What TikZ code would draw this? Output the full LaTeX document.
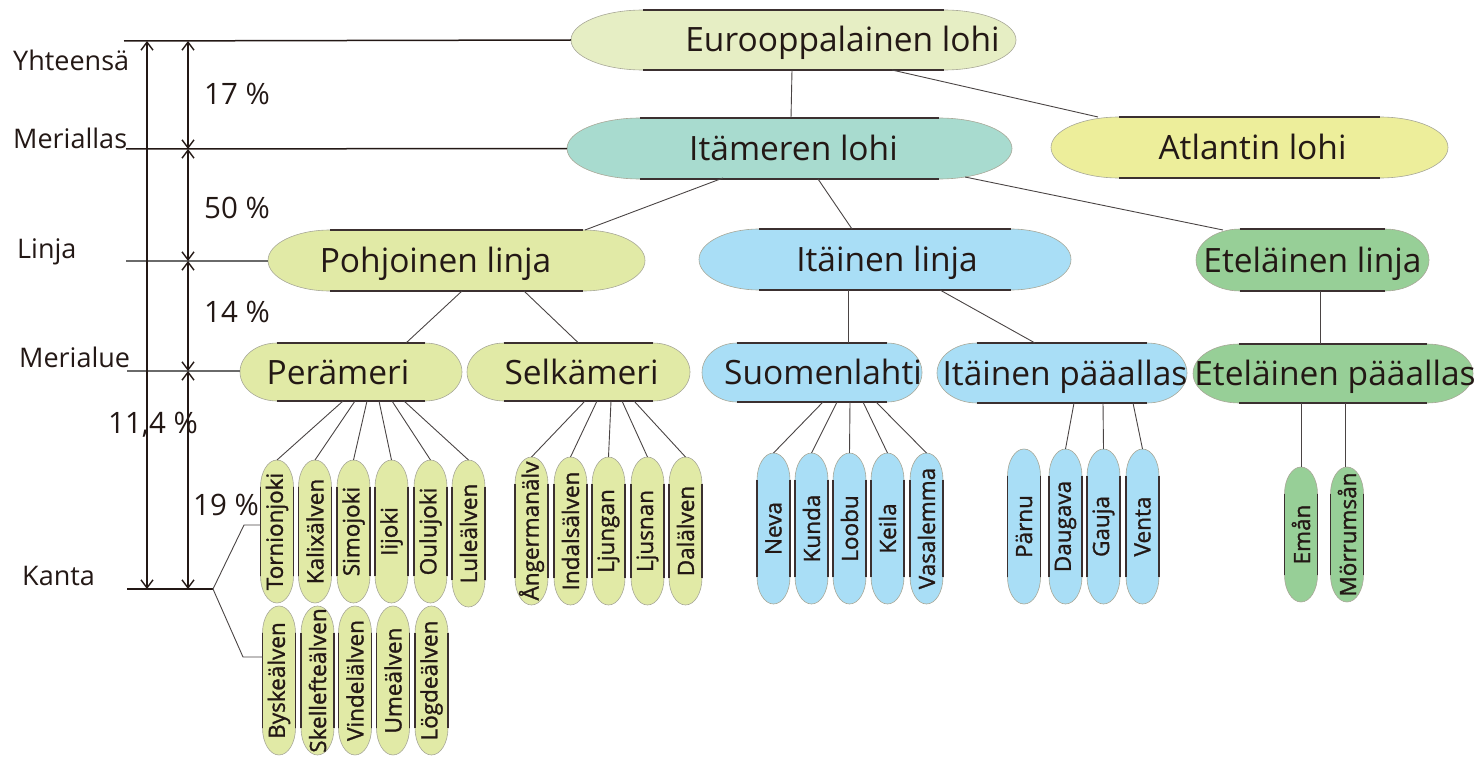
\documentclass[tikz,border=0pt]{standalone}
\usepackage{fontspec}
\usepackage{graphicx}
\setmainfont{Open Sans}
\newfontfamily\riverfont{Open Sans}[FakeBold=1.2]
\usetikzlibrary{arrows.meta,calc}
\definecolor{ink}{HTML}{231815}
\definecolor{capedge}{HTML}{A8A898}
\definecolor{capdark}{HTML}{3B3030}
\definecolor{connC}{HTML}{4A4444}
\definecolor{greyline}{HTML}{6A6A6A}
\definecolor{euroC}{HTML}{E6EEC4}
\definecolor{itamC}{HTML}{A8DBCF}
\definecolor{atlC}{HTML}{EDEE9B}
\definecolor{pohjC}{HTML}{E1EAA6}
\definecolor{blueC}{HTML}{A9DEF6}
\definecolor{greenC}{HTML}{97CF97}
% horizontal capsule: name, x, y, width, height, end length, fill, text, text shift
\newcommand\hcap[9]{%
  \filldraw[fill=#7, draw=capedge, line width=0.6pt]
    (#2-#4/2+#6,#3-#5/2) -- (#2+#4/2-#6,#3-#5/2)
    arc[start angle=90,end angle=-90,x radius=#6*1pt,y radius=#5*0.5pt]
    -- (#2-#4/2+#6,#3+#5/2)
    arc[start angle=270,end angle=90,x radius=#6*1pt,y radius=#5*0.5pt] -- cycle;
  \draw[capline] (#2-#4/2+#6,#3-#5/2) -- (#2+#4/2-#6,#3-#5/2);
  \draw[capline] (#2-#4/2+#6,#3+#5/2) -- (#2+#4/2-#6,#3+#5/2);
  \node[capnode, captext, minimum width=#4*1pt, minimum height=#5*1pt] (#1) at (#2,#3)
    {\makebox[0pt]{\hspace*{#9pt}\hspace*{#9pt}#8}};
}
% vertical capsule: name, x, y, height, fill, text
\newcommand\vcap[6]{%
  \filldraw[fill=#5, draw=capedge, line width=0.6pt]
    (#2-16.5,#3-#4/2+27) arc[start angle=180,end angle=0,x radius=16.5pt,y radius=27pt]
    -- (#2+16.5,#3+#4/2-27)
    arc[start angle=0,end angle=-180,x radius=16.5pt,y radius=27pt] -- cycle;
  \draw[capline] (#2-16.5,#3-#4/2+27) -- (#2-16.5,#3+#4/2-27);
  \draw[capline] (#2+16.5,#3-#4/2+27) -- (#2+16.5,#3+#4/2-27);
  \node[capnode, rivertext, minimum width=33pt, minimum height=#4*1pt] (#1) at (#2,#3)
    {\rotatebox{90}{#6}};
}
\begin{document}
\begin{tikzpicture}[x=1pt,y=-1pt,
  capline/.style={draw=capdark, line width=1.3pt},
  capnode/.style={draw=none, inner sep=0pt, outer sep=0pt, rectangle},
  captext/.style={font=\fontsize{33.5}{38}\selectfont, text=ink, text height=24pt, text depth=0pt},
  rivertext/.style={font=\riverfont\fontsize{22.5}{26}\selectfont, text=ink},
  axlabel/.style={font=\fontsize{27}{32}\selectfont, text=ink, inner sep=0pt, anchor=base west},
  pclabel/.style={font=\fontsize{29.5}{34}\selectfont, text=ink, inner sep=0pt, anchor=base west},
  conn/.style={draw=connC, line width=0.9pt},
  darkline/.style={draw=ink, line width=1.5pt},
  greyaxis/.style={draw=greyline, line width=1.1pt},
  dimarrow/.style={draw=ink, line width=1.4pt,
    {Straight Barb[length=8pt,width=12pt]}-{Straight Barb[length=8pt,width=12pt]}}
]
\useasboundingbox (0,0) rectangle (1480,757);

% ---------- main nodes ----------
\hcap{euro}{793.5}{40}{445}{60}{72}{euroC}{Eurooppalainen lohi}{49}
\hcap{itam}{789.5}{148.5}{445}{61}{73}{itamC}{Itämeren lohi}{4}
\hcap{atl}{1249.5}{147.5}{397}{61}{68}{atlC}{Atlantin lohi}{3}
\hcap{pohj}{456.5}{260.5}{377}{61}{62}{pohjC}{Pohjoinen linja}{-21}
\hcap{itlin}{885}{259.5}{372}{61}{60}{blueC}{Itäinen linja}{2}
\hcap{etlin}{1312.5}{260}{233}{62}{44}{greenC}{Eteläinen linja}{0}
\hcap{per}{351}{372}{222}{58}{37}{pohjC}{Perämeri}{-13}
\hcap{selk}{578.5}{372}{223}{58}{37}{pohjC}{Selkämeri}{3}
\hcap{suom}{812}{372.5}{220}{59}{35}{blueC}{Suomenlahti}{11}
\hcap{itpaa}{1062}{373}{250}{60}{40}{blueC}{Itäinen pääallas}{3}
\hcap{etpaa}{1333}{373.5}{280}{59}{46}{greenC}{Eteläinen pääallas}{2}

% ---------- rivers ----------
\vcap{torn}{277}{531.5}{143}{pohjC}{Tornionjoki}
\vcap{kalix}{315}{531.5}{143}{pohjC}{Kalixälven}
\vcap{simo}{353.5}{531.5}{143}{pohjC}{Simojoki}
\vcap{iijoki}{391.5}{531.5}{143}{pohjC}{Iijoki}
\vcap{oulu}{430.5}{531.5}{143}{pohjC}{Oulujoki}
\vcap{lule}{468.5}{533.5}{147}{pohjC}{Luleälven}
\vcap{bysk}{279}{680.5}{149}{pohjC}{Byskeälven}
\vcap{skel}{317.5}{680.5}{149}{pohjC}{Skellefteälven}
\vcap{vind}{355}{680.5}{149}{pohjC}{Vindelälven}
\vcap{ume}{393}{680.5}{149}{pohjC}{Umeälven}
\vcap{logd}{431.5}{680.5}{149}{pohjC}{Lögdeälven}

\vcap{ang}{531.5}{531}{148}{pohjC}{Ångermanälv}
\vcap{inda}{570.5}{531}{148}{pohjC}{Indalsälven}
\vcap{ljun}{608.5}{531}{148}{pohjC}{Ljungan}
\vcap{ljus}{647.5}{531}{148}{pohjC}{Ljusnan}
\vcap{dal}{685.5}{531}{148}{pohjC}{Dalälven}

\vcap{neva}{773.5}{528.5}{151}{blueC}{Neva}
\vcap{kunda}{811.5}{528.5}{151}{blueC}{Kunda}
\vcap{loobu}{849.5}{528.5}{151}{blueC}{Loobu}
\vcap{keila}{887.5}{528.5}{151}{blueC}{Keila}
\vcap{vasa}{926.5}{528.5}{151}{blueC}{Vasalemma}

\vcap{parnu}{1024}{526.5}{155}{blueC}{Pärnu}
\vcap{daug}{1065.5}{526.5}{155}{blueC}{Daugava}
\vcap{gauja}{1103.5}{526.5}{155}{blueC}{Gauja}
\vcap{venta}{1142.5}{526.5}{155}{blueC}{Venta}

\vcap{eman}{1301}{534.5}{135}{greenC}{Emån}
\vcap{morr}{1347}{534.5}{135}{greenC}{Mörrumsån}

% ---------- tree connectors ----------
\draw[conn] ([xshift=-1.5pt]euro.south) -- ([xshift=1.5pt]itam.north);
\draw[conn] ([xshift=98.5pt]euro.south) -- ([xshift=-151.5pt]atl.north);
\draw[conn] ([xshift=-66.5pt,yshift=1pt]itam.south) -- ([xshift=128.5pt]pohj.north);
\draw[conn] ([xshift=28.5pt]itam.south) -- ([xshift=-33pt]itlin.north);
\draw[conn] ([xshift=175.5pt,yshift=2pt]itam.south) -- ([xshift=-89.5pt,yshift=-1pt]etlin.north);
\draw[conn] ([xshift=5.5pt]pohj.south) -- ([xshift=55pt]per.north);
\draw[conn] ([xshift=67.5pt]pohj.south) -- (selk.north);
\draw[conn] ([xshift=-37pt]itlin.south) -- ([xshift=36pt]suom.north);
\draw[conn] ([xshift=55pt]itlin.south) -- ([xshift=-27pt]itpaa.north);
\draw[conn] ([xshift=7.5pt]etlin.south) -- ([xshift=-13pt]etpaa.north);

\draw[conn] ([xshift=-8pt]per.south) -- (torn.north);
\draw[conn] ([xshift=4pt]per.south) -- (kalix.north);
\draw[conn] ([xshift=16pt]per.south) -- (simo.north);
\draw[conn] ([xshift=28pt]per.south) -- (iijoki.north);
\draw[conn] ([xshift=41pt]per.south) -- (oulu.north);
\draw[conn] ([xshift=53pt]per.south) -- (lule.north);

\draw[conn] ([xshift=6.5pt]selk.south) -- (ang.north);
\draw[conn] ([xshift=18.5pt]selk.south) -- (inda.north);
\draw[conn] ([xshift=32.5pt]selk.south) -- (ljun.north);
\draw[conn] ([xshift=43.5pt]selk.south) -- (ljus.north);
\draw[conn] ([xshift=55.5pt]selk.south) -- (dal.north);

\draw[conn] ([xshift=11pt]suom.south) -- (neva.north);
\draw[conn] ([xshift=25pt]suom.south) -- (kunda.north);
\draw[conn] ([xshift=38pt]suom.south) -- (loobu.north);
\draw[conn] ([xshift=51pt]suom.south) -- (keila.north);
\draw[conn] ([xshift=64pt]suom.south) -- (vasa.north);

\draw[conn] ([xshift=12pt]itpaa.south) -- (daug.north);
\draw[conn] ([xshift=41pt]itpaa.south) -- (gauja.north);
\draw[conn] ([xshift=71pt]itpaa.south) -- (venta.north);

\draw[conn] (eman.north |- etpaa.south) -- (eman.north);
\draw[conn] ([xshift=-2pt]morr.north |- etpaa.south) -- ([xshift=-2pt]morr.north);

% ---------- left scale ----------
\coordinate (yT) at (124,41);
\coordinate (mT) at (126,149);
\coordinate (lT) at (126,261);
\coordinate (maT) at (127,371);
\coordinate (kT) at (127,589);
\coordinate (kR) at (213,589);
\coordinate (bUp) at (244,525);
\coordinate (bDn) at (243,657);
\coordinate (aTop) at (147,41);
\coordinate (aBot) at (147,589);
\coordinate (b1) at (188,41);
\coordinate (b2) at (188,149);
\coordinate (b3) at (188,261);
\coordinate (b4) at (188,371);
\coordinate (b5) at (188,589);

\draw[darkline] (yT) -- (euro.west);
\draw[darkline] (mT) -- (itam.west);
\draw[greyaxis] (lT) -- (lT -| pohj.west);
\draw[greyaxis] (maT) -- (maT -| per.west);
\draw[draw=ink, line width=1.2pt] (kT) -- (kR);
\draw[conn] (kR) -- (bUp) -- ([yshift=6.5pt]torn.west);
\draw[conn] (kR) -- (bDn) -- ([yshift=23.5pt]bysk.west);

\draw[dimarrow] (aTop) -- (aBot);
\draw[dimarrow] (b1) -- (b2);
\draw[dimarrow] (b2) -- (b3);
\draw[dimarrow] (b3) -- (b4);
\draw[dimarrow] (b4) -- (b5);

\node[axlabel] (lYht) at (13,71) {Yhteensä};
\node[axlabel] (lMer) at (13,149) {Meriallas};
\node[axlabel] (lLin) at (17,258) {Linja};
\node[axlabel] (lMal) at (19,367) {Merialue};
\node[axlabel] (lKan) at (22,585) {Kanta};
\node[pclabel] (p17) at (204,105) {17 \%};
\node[pclabel] (p50) at (204,218) {50 \%};
\node[pclabel] (p14) at (204,322) {14 \%};
\node[pclabel] (p114) at (108,433) {11,4 \%};
\node[pclabel] (p19) at (193,515) {19 \%};
\end{tikzpicture}
\end{document}
